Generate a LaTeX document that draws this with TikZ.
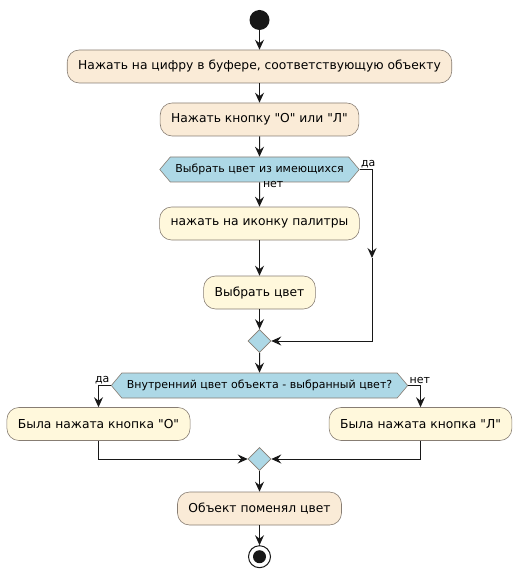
\documentclass[tikz,border=0pt]{standalone}
\usepackage{fontspec}
\setmainfont{DejaVu Sans}
\usepackage{tikz}
\usetikzlibrary{arrows.meta,positioning,shapes.geometric,shapes.symbols}
\definecolor{actbeige}{RGB}{250,235,215}
\definecolor{actyellow}{RGB}{255,248,220}
\definecolor{choiceblue}{RGB}{173,216,230}
\definecolor{edgegray}{RGB}{135,125,115}
\definecolor{linedark}{RGB}{24,24,24}
\newcommand{\dq}{\textquotedbl}
\tikzset{
  act/.style={draw=edgegray, line width=0.6pt, rounded corners=12pt, minimum height=33pt,
    inner xsep=11pt, font=\fontsize{12.3}{14}\selectfont},
  choice/.style={signal, signal to=west and east, signal pointer angle=100, draw=edgegray,
    line width=0.6pt, fill=choiceblue, minimum height=25pt, inner xsep=5pt,
    font=\fontsize{11}{13}\selectfont},
  merge/.style={diamond, draw=edgegray, line width=0.6pt, fill=choiceblue, minimum size=23pt, inner sep=0pt},
  arr/.style={draw=linedark, line width=1pt, -{Stealth[length=10pt,width=9pt,inset=3.5pt]}},
  lbl/.style={font=\fontsize{11}{13}\selectfont, inner sep=1pt}
}
\begin{document}
\begin{tikzpicture}[x=1pt,y=-1pt]
    \useasboundingbox (0,0) rectangle (517,577);
    \node[circle, fill=linedark, minimum size=20pt, inner sep=0pt] (start) at (259.5,20) {};
    \node[act, fill=actbeige] (a1) at (259.5,66.5) {Нажать на цифру в буфере, соответствующую объекту};
    \node[act, fill=actbeige] (a2) at (259.5,119.5) {Нажать кнопку \dq О\dq{} или \dq Л\dq};
    \node[choice] (h1) at (259.5,169.5) {Выбрать цвет из имеющихся};
    \node[act, fill=actyellow] (a3) at (259.5,223.5) {нажать на иконку палитры};
    \node[act, fill=actyellow] (a4) at (259.5,292.5) {Выбрать цвет};
    \node[merge] (m1) at (259.5,341) {};
    \node[choice] (h2) at (259.5,385.5) {Внутренний цвет объекта - выбранный цвет?};
    \node[act, fill=actyellow] (a5) at (98.5,424) {Была нажата кнопка \dq О\dq};
    \node[act, fill=actyellow] (a6) at (420.5,424) {Была нажата кнопка \dq Л\dq};
    \node[merge] (m2) at (259.5,459) {};
    \node[act, fill=actbeige] (a7) at (259.5,508.5) {Объект поменял цвет};
    \node[circle, draw=linedark, line width=1pt, fill=white, minimum size=22pt, inner sep=0pt] (stop) at (259.5,556.7) {};
    \node[circle, fill=linedark, minimum size=13pt, inner sep=0pt] (stopdot) at (stop.center) {};
    \coordinate (r1) at (372,258);
    \draw[arr] (start) -- (a1);
    \draw[arr] (a1) -- (a2);
    \draw[arr] (a2) -- (h1);
    \draw[arr] (h1) -- (a3) node[lbl, pos=0.1, anchor=west, xshift=2pt] (no1) {нет};
    \draw[arr] (a3) -- (a4);
    \draw[arr] (a4) -- (m1);
    \draw[arr] (h1.east) -| (r1) node[lbl, pos=0, anchor=south west] (yes1) {да};
    \draw[arr] (r1) |- (m1.east);
    \draw[arr] (m1) -- (h2);
    \draw[arr] (h2.west) -| (a5.north) node[lbl, pos=0, anchor=south east] (yes2) {да};
    \draw[arr] (h2.east) -| (a6.north) node[lbl, pos=0, anchor=south west] (no2) {нет};
    \draw[arr] (a5.south) |- (m2.west);
    \draw[arr] (a6.south) |- (m2.east);
    \draw[arr] (m2) -- (a7);
    \draw[arr] (a7) -- (stop);
\end{tikzpicture}
\end{document}
